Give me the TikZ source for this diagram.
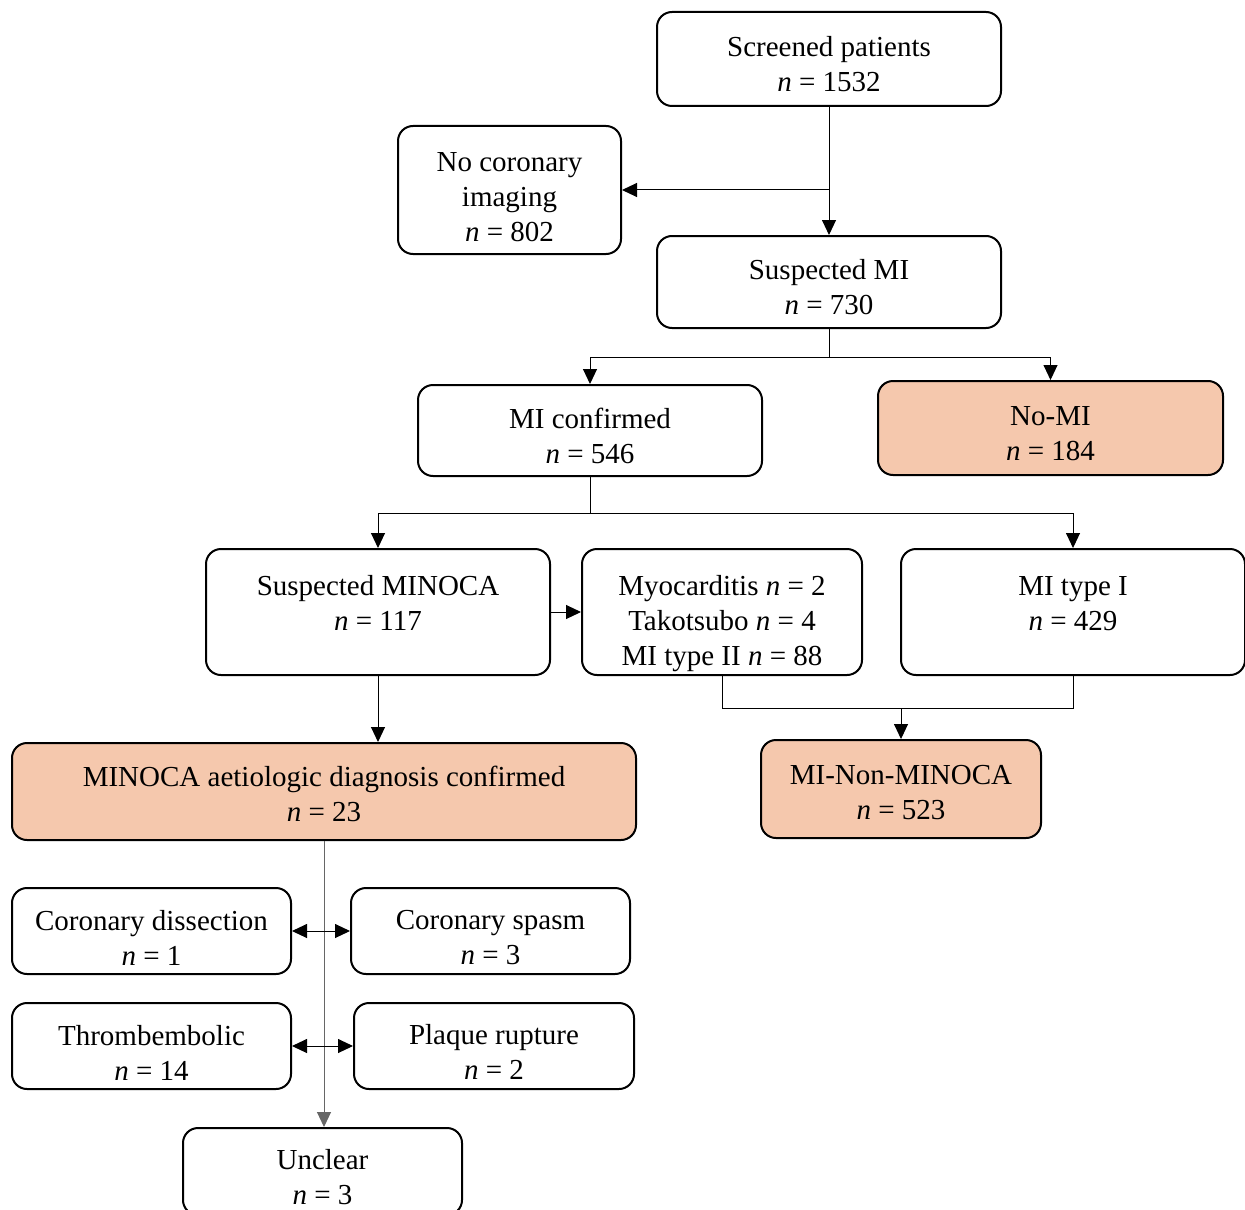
\documentclass[tikz,border=0pt]{standalone}
\usepackage{fontspec}
\setmainfont{Liberation Serif}
\usetikzlibrary{arrows.meta}
\definecolor{peach}{RGB}{245,200,173}
\tikzset{
	box/.style={draw,line width=1pt,rounded corners=7.5pt,align=center,inner sep=0pt,
		text height=33pt,font=\fontsize{14.5}{17.5}\selectfont},
	hit/.style={box,fill=peach},
	link/.style={line width=0.5pt,draw=black},
	arr/.style={link,-{Triangle[length=7.5pt,width=7pt]}},
	dbl/.style={link,{Triangle[length=7.5pt,width=7pt]}-{Triangle[length=7.5pt,width=7pt]}}
}
\newcommand{\nn}{\textit{n}}
\begin{document}
\begin{tikzpicture}[x=0.5pt,y=-0.5pt]
			\useasboundingbox (0,0) rectangle (1245,1209);
			\node[box,minimum width=172pt,minimum height=47pt] (screened) at (829,59) {Screened patients\\ \nn{} = 1532};
			\node[box,minimum width=111.5pt,minimum height=64pt,text height=52pt] (nocor) at (509.5,190) {No coronary\\ imaging\\ \nn{} = 802};
			\node[box,minimum width=172pt,minimum height=46pt] (suspmi) at (829,282) {Suspected MI\\ \nn{} = 730};
			\node[box,minimum width=172pt,minimum height=45.5pt] (miconf) at (590,430.5) {MI confirmed\\ \nn{} = 546};
			\node[hit,minimum width=172.5pt,minimum height=47pt] (nomi) at (1050.5,428) {No-MI\\ \nn{} = 184};
			\node[box,minimum width=172pt,minimum height=63pt,text height=18.5pt] (suspminoca) at (378,612) {Suspected MINOCA\\ \nn{} = 117};
			\node[box,minimum width=140pt,minimum height=63pt,text height=56.5pt] (other) at (722,612) {Myocarditis \nn{} = 2\\ Takotsubo \nn{} = 4\\ MI type II \nn{} = 88};
			\node[box,minimum width=172pt,minimum height=63pt,text height=18.5pt] (typeone) at (1073,612) {MI type I\\ \nn{} = 429};
			\node[hit,minimum width=312pt,minimum height=48.5pt,text height=30.5pt] (aetio) at (324,791.5) {MINOCA aetiologic diagnosis confirmed\\ \nn{} = 23};
			\node[hit,minimum width=140pt,minimum height=49pt,text height=30.5pt] (nonminoca) at (901,789) {MI-Non-MINOCA\\ \nn{} = 523};
			\node[box,minimum width=139.5pt,minimum height=43pt,text height=34pt] (dissection) at (151.5,931) {Coronary dissection\\ \nn{} = 1};
			\node[box,minimum width=139.5pt,minimum height=43pt,text height=34pt] (spasm) at (490.5,931) {Coronary spasm\\ \nn{} = 3};
			\node[box,minimum width=139.5pt,minimum height=43pt,text height=34pt] (thromb) at (151.5,1046) {Thrombembolic\\ \nn{} = 14};
			\node[box,minimum width=140pt,minimum height=43pt,text height=33.5pt] (plaque) at (494,1046) {Plaque rupture\\ \nn{} = 2};
			\node[box,minimum width=139.5pt,minimum height=43.5pt] (unclear) at (322.5,1171.5) {Unclear\\ \nn{} = 3};
			\coordinate (split1) at (829,357);
			\coordinate (split2) at (590,513);
			\coordinate (join) at (901,708);
			\draw[arr] (screened) -- (suspmi);
			\draw[arr] (screened.south |- nocor) -- (nocor);
			\draw[link] (suspmi) -- (split1);
			\draw[arr] (split1) -| (miconf);
			\draw[arr] (split1) -| (nomi);
			\draw[link] (miconf) -- (split2);
			\draw[arr] (split2) -| (suspminoca);
			\draw[arr] (split2) -| (typeone);
			\draw[arr] (suspminoca) -- (other);
			\draw[arr] (suspminoca) -- (suspminoca.south |- aetio.north);
			\draw[link] (other.south) |- (typeone.south |- join) -- (typeone.south);
			\draw[arr] (join) -- (nonminoca);
			\draw[arr,draw=black!60] (aetio) -- (aetio.south |- unclear.north);
			\draw[dbl] (dissection) -- (spasm);
			\draw[dbl] (thromb) -- (plaque);
		\end{tikzpicture}
\end{document}
